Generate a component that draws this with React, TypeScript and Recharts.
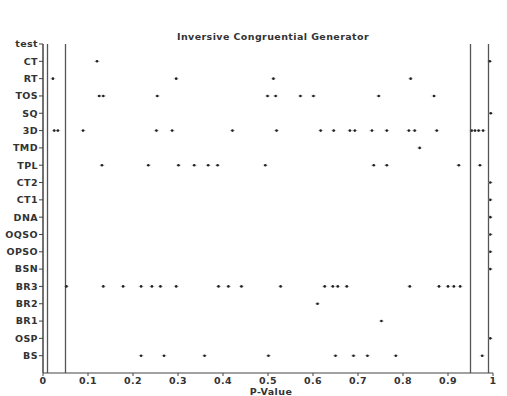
import React from 'react';
import { ScatterChart, Scatter, XAxis, YAxis, ReferenceLine } from 'recharts';

const categories = ['BS', 'OSP', 'BR1', 'BR2', 'BR3', 'BSN', 'OPSO', 'OQSO', 'DNA', 'CT1', 'CT2', 'TPL', 'TMD', '3D', 'SQ', 'TOS', 'RT', 'CT', 'test'];

const BS = [0.218, 0.269, 0.359, 0.501, 0.65, 0.69, 0.721, 0.784, 0.976];
const OSP = [0.994];
const BR1 = [0.752];
const BR2 = [0.61];
const BR3 = [0.052, 0.134, 0.178, 0.218, 0.242, 0.261, 0.296, 0.39, 0.412, 0.441, 0.528, 0.626, 0.644, 0.655, 0.675, 0.815, 0.88, 0.9, 0.913, 0.927];
const BSN = [0.994];
const OPSO = [0.994];
const OQSO = [0.994];
const DNA = [0.994];
const CT1 = [0.994];
const CT2 = [0.994];
const TPL = [0.131, 0.234, 0.301, 0.336, 0.367, 0.388, 0.494, 0.735, 0.764, 0.924, 0.971];
const TMD = [0.837];
const D3 = [0.025, 0.033, 0.089, 0.252, 0.287, 0.421, 0.519, 0.617, 0.646, 0.682, 0.693, 0.731, 0.764, 0.813, 0.826, 0.875, 0.953, 0.96, 0.968, 0.978];
const SQ = [0.995];
const TOS = [0.125, 0.134, 0.254, 0.499, 0.517, 0.572, 0.601, 0.746, 0.869];
const RT = [0.022, 0.296, 0.512, 0.817];
const CT = [0.12, 0.993];
const TEST: number[] = [];

const seriesByRow = [BS, OSP, BR1, BR2, BR3, BSN, OPSO, OQSO, DNA, CT1, CT2, TPL, TMD, D3, SQ, TOS, RT, CT, TEST];

const xTicks = [0, 0.1, 0.2, 0.3, 0.4, 0.5, 0.6, 0.7, 0.8, 0.9, 1];
const yTicks = categories.map((_, i) => i + 1);
const thresholds = [0.01, 0.05, 0.95, 0.99];

const points = seriesByRow.flatMap((vals, i) => vals.map((v) => ({ x: v, y: i + 1 })));

const FONT = '"DejaVu Sans", sans-serif';
const tickStyle = { fontFamily: FONT, fontSize: 9.5, fontWeight: 'bold', fill: '#333', letterSpacing: 0.4 } as const;

const Dot = (props: any) => {
  const { cx, cy } = props;
  if (cx == null || cy == null) return null;
  return (
    <g>
      <line x1={cx - 2.5} x2={cx + 2.5} y1={cy} y2={cy} stroke="#999" strokeWidth={0.6} />
      <circle cx={cx} cy={cy} r={1.3} fill="#222" />
    </g>
  );
};

const labelStyle: React.CSSProperties = {
  position: 'absolute',
  textAlign: 'center',
  fontFamily: FONT,
  fontSize: 9.5,
  fontWeight: 'bold',
  color: '#333',
  lineHeight: '12px',
  whiteSpace: 'nowrap',
  letterSpacing: 0.4,
};

export default function App() {
  return (
    <div style={{ position: 'absolute', left: 0, top: 0, width: 507, height: 396, background: '#fff' }}>
      <div style={{ ...labelStyle, left: 163, width: 220, top: 31 }}>Inversive Congruential Generator</div>
      <div style={{ ...labelStyle, left: 221, width: 100, top: 386 }}>P-Value</div>
      <ScatterChart width={507} height={396} margin={{ top: 44, right: 14, bottom: 3, left: 0 }}>
        <XAxis
          type="number"
          dataKey="x"
          domain={[0, 1]}
          ticks={xTicks}
          interval={0}
          tickFormatter={(v: number) => String(Math.round(v * 10) / 10)}
          tick={tickStyle}
          tickSize={3}
          tickMargin={1}
          height={20}
          stroke="#444"
          axisLine={{ stroke: '#444', strokeWidth: 1.2 }}
          tickLine={{ stroke: '#444' }}
        />
        <YAxis
          type="number"
          dataKey="y"
          domain={[0, 19]}
          ticks={yTicks}
          interval={0}
          tickFormatter={(v: number) => categories[v - 1] ?? ''}
          tick={tickStyle}
          tickSize={4}
          tickMargin={1}
          width={43}
          axisLine={{ stroke: '#444', strokeWidth: 1.5 }}
          tickLine={{ stroke: '#444' }}
        />
        {thresholds.map((t) => (
          <ReferenceLine key={t} x={t} stroke="#555" strokeWidth={1.3} ifOverflow="extendDomain" />
        ))}
        <Scatter data={points} shape={<Dot />} isAnimationActive={false} />
      </ScatterChart>
    </div>
  );
}
